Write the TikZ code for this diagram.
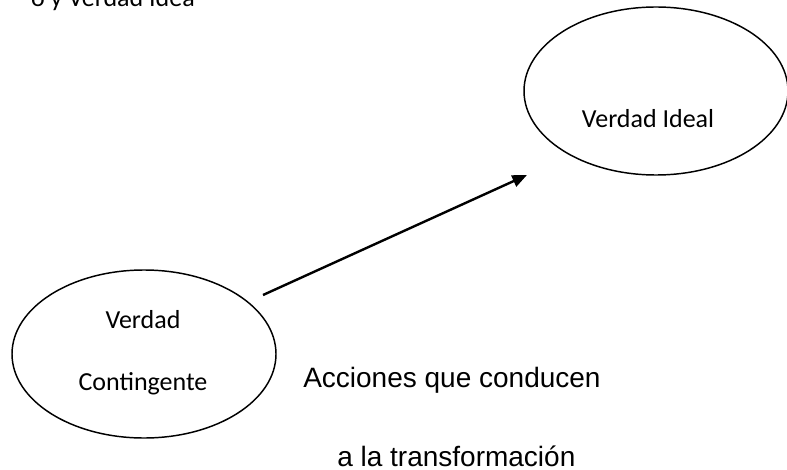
\documentclass[tikz,border=0pt]{standalone}
\usepackage{fontspec}
\setmainfont{Carlito}
\newfontfamily\arialfont{Liberation Sans}
\usetikzlibrary{shapes.geometric,arrows.meta}

\begin{document}
\begin{tikzpicture}[x=0.75pt,y=-0.75pt,
  verdad/.style={draw, ellipse, line width=1.1pt, minimum width=198pt, minimum height=126pt, inner sep=0pt},
  calibritext/.style={font=\fontsize{19.5}{20}\selectfont, inner sep=0pt},
  ariatext/.style={font=\arialfont\fontsize{21}{22}\selectfont, inner sep=0pt}]
  % page size of the reference
  \useasboundingbox (0,0) rectangle (787,470);

  % cut off heading at the top
  \node[calibritext, anchor=base east] (heading) at (195,7) {o y Verdad Idea};

  % the two ellipses
  \node[verdad] (ideal) at (656,91) {};
  \node[verdad] (contingente) at (144,354) {};

  \node[calibritext, anchor=base] (idealtxt) at (648,128) {Verdad Ideal};
  \node[calibritext, anchor=base] (conttxtA) at (143,328) {Verdad};
  \node[calibritext, anchor=base] (conttxtB) at (143,390) {Contingente};

  % arrow between them
  \coordinate (tail) at (263,295);
  \coordinate (head) at (527,175);
  \draw[line width=1.8pt, -{Triangle[length=11pt,width=9pt]}] (tail) -- (head);

  \node[ariatext, anchor=base west] (accA) at (303,387) {Acciones que conducen};
  \node[ariatext, anchor=base west] (accB) at (337,466) {a la transformación};
\end{tikzpicture}
\end{document}
